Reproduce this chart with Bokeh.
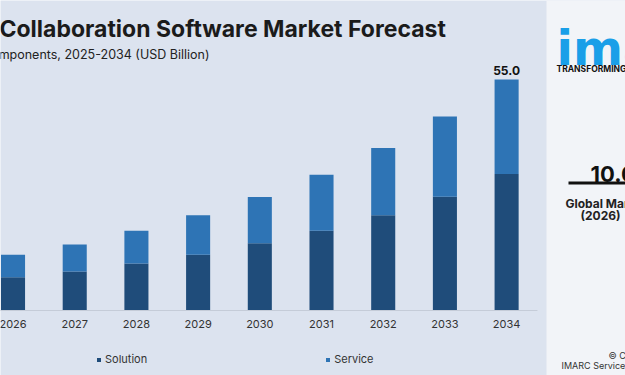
from bokeh.plotting import figure
from bokeh.models import (Range1d, Label, BoxAnnotation, Legend,
                          LegendItem, ColumnDataSource)
from bokeh.core.properties import value
from bokeh.embed import file_html
from bokeh.resources import INLINE

# ---- data (USD Billion) ----
years = [2026, 2027, 2028, 2029, 2030, 2031, 2032, 2033, 2034]
solution = [7.9, 9.3, 11.2, 13.3, 16.0, 19.0, 22.7, 27.1, 32.5]
service = [5.4, 6.4, 7.8, 9.4, 11.0, 13.3, 16.0, 19.1, 22.5]
series_names = ["Solution", "Service"]
tick_labels = [str(y) for y in years]

title_text = "Collaboration Software Market Forecast"
subtitle_text = "Components, 2025-2034 (USD Billion)"

BG = "#dce3ef"
PANEL = "#f2f4f8"
C_SOL = "#1f4c7a"
C_SER = "#2e74b5"
FONT = "Inter"
H = 375

p = figure(width=625, height=H, output_backend="svg", toolbar_location=None,
           x_range=Range1d(2025.797, 2035.927),
           y_range=Range1d(-15.476, 73.81),
           x_axis_location=None, y_axis_location=None,
           min_border_left=0, min_border_right=0,
           min_border_top=0, min_border_bottom=0,
           background_fill_color=BG, border_fill_color=BG,
           outline_line_color=None)
p.grid.visible = False

src = ColumnDataSource(dict(year=years, Solution=solution, Service=service))
rs = p.vbar_stack(series_names, x="year", width=0.39, source=src,
                  color=[C_SOL, C_SER], line_color=None)

# baseline (category axis line)
p.segment(x0=[years[0] - 1], x1=[years[-1] + 0.5], y0=[0], y1=[0],
          line_color="#c5ccd8", line_width=1)

# category tick labels
tick_src = ColumnDataSource(dict(x=years, y=[0] * len(years), t=tick_labels))
p.text(x="x", y="y", text="t", source=tick_src, text_align="center",
       text_baseline="middle", y_offset=13, text_font=value(FONT),
       text_font_size="11px", text_color="#333333")

# total label on last bar
totals = [a + b for a, b in zip(solution, service)]
lab_src = ColumnDataSource(dict(x=[years[-1]], y=[totals[-1]],
                                t=[f"{totals[-1]:.1f}"]))
p.text(x="x", y="y", text="t", source=lab_src, text_align="center",
       text_baseline="bottom", y_offset=-5, text_font=value(FONT),
       text_font_style="bold", text_font_size="12px", text_color="#111111")

legend = Legend(items=[LegendItem(label=series_names[0], renderers=[rs[0]]),
                       LegendItem(label=series_names[1], renderers=[rs[1]])],
                orientation="horizontal", location=(96, 9),
                glyph_width=5, glyph_height=5, label_standoff=4,
                label_height=12, spacing=178, padding=0, margin=0,
                border_line_color=None, background_fill_alpha=0,
                label_text_font=FONT, label_text_font_size="11px",
                label_text_color="#333333")
p.add_layout(legend)


def lab(x, ycanvas, text, size, color="#1b1b1b", bold=False, align="left",
        font=FONT):
    p.add_layout(Label(x=x, y=H - ycanvas, x_units="screen", y_units="screen",
                       text=text, text_font=font, text_font_size=size,
                       text_color=color, text_align=align,
                       text_baseline="alphabetic",
                       text_font_style="bold" if bold else "normal"))


def box(l, r, t, b, color):
    p.add_layout(BoxAnnotation(left=l, right=r, top=H - t, bottom=H - b,
                               left_units="screen", right_units="screen",
                               top_units="screen", bottom_units="screen",
                               fill_color=color, fill_alpha=1, line_color=None))


lab(-1, 28, title_text, "23px", bold=True)
lab(209, 54, subtitle_text, "12.5px", color="#222222", align="right")

# right panel
box(546, 625, 0, H, PANEL)
lab(556, 47, "imarc", "48px", color="#1a9fe8", bold=True, font="DejaVu Sans")
lab(556, 68, "TRANSFORMING IDEAS INTO IMPACT", "8.5px", color="#111111", bold=True)
lab(590, 173, "10.0", "22px", color="#111111", bold=True)
box(568, 625, 181, 184, "#111111")
lab(565, 203, "Global Market Size", "12px", color="#222222", bold=True)
lab(580, 215, "(2026)", "12px", color="#222222", bold=True)
lab(608, 355, "© Copyright", "9px", color="#333333")
lab(561, 365, "IMARC Services Pvt Ltd", "9px", color="#333333")

open("out.html", "w").write(file_html(p, INLINE))
